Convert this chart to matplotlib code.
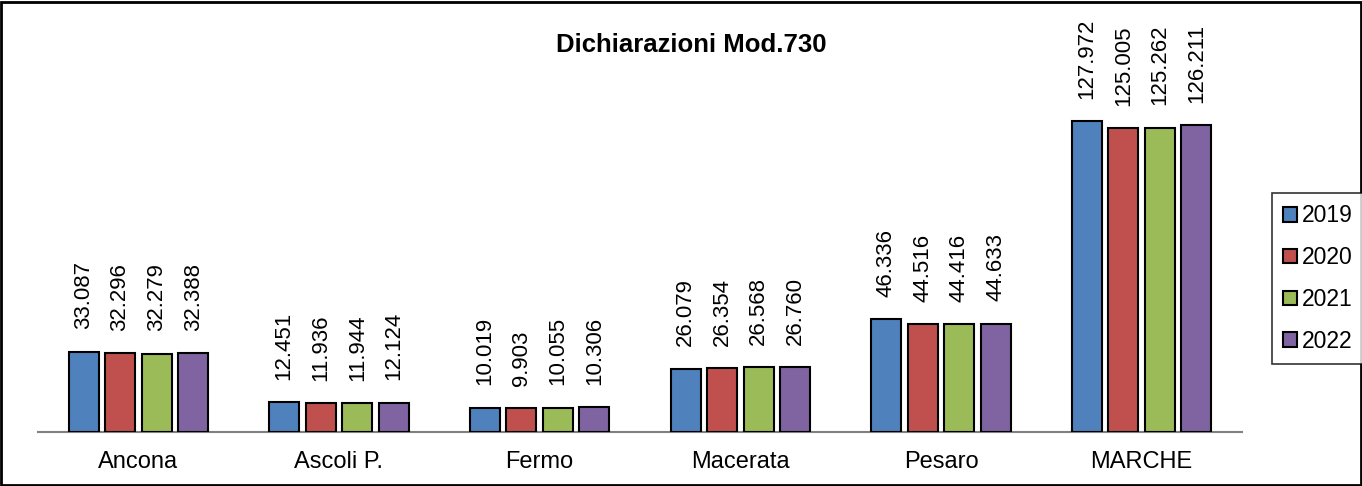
import matplotlib.pyplot as plt
import numpy as np
from matplotlib.patches import Rectangle

plt.rcParams["font.family"] = ["Liberation Sans", "DejaVu Sans"]

categories = ["Ancona", "Ascoli P.", "Fermo", "Macerata", "Pesaro", "MARCHE"]
years = ["2019", "2020", "2021", "2022"]
v2019 = [33087, 12451, 10019, 26079, 46336, 127972]
v2020 = [32296, 11936, 9903, 26354, 44516, 125005]
v2021 = [32279, 11944, 10055, 26568, 44416, 125262]
v2022 = [32388, 12124, 10306, 26760, 44633, 126211]
series = [v2019, v2020, v2021, v2022]
colors = ["#4F81BD", "#C0504D", "#9BBB59", "#8064A2"]


def fmt(v):
    return f"{v:,}".replace(",", ".")


def main():
    fig = plt.figure(figsize=(13.62, 4.86), dpi=100)
    ax = fig.add_axes([38 / 1362, 1 - 432 / 486, 1204 / 1362, 422 / 486])

    x = np.arange(len(categories))
    width = 0.15
    step = 0.182
    for i, (vals, col, yr) in enumerate(zip(series, colors, years)):
        pos = x + (i - 1.5) * step
        bars = ax.bar(pos, vals, width, color=col, edgecolor="black",
                      linewidth=1.5, label=yr, zorder=3)
        for b, v in zip(bars, vals):
            ax.annotate(fmt(v), xy=(b.get_x() + b.get_width() / 2, v),
                        xytext=(0, 16), textcoords="offset points",
                        rotation=90, ha="center", va="bottom", fontsize=16)

    ax.set_xlim(-0.5, len(categories) - 0.5)
    ax.set_ylim(0, 173600)
    ax.set_xticks(x)
    ax.set_xticklabels(categories, fontsize=17)
    ax.tick_params(axis="x", length=0, pad=14)
    ax.set_yticks([])
    for s in ["top", "right", "left"]:
        ax.spines[s].set_visible(False)
    ax.spines["bottom"].set_color("#808080")
    ax.spines["bottom"].set_linewidth(1.5)

    fig.text(691 / 1362, 1 - 45 / 486, "Dichiarazioni Mod.730", ha="center",
             va="center", fontsize=18.5, fontweight="bold")

    leg = fig.legend(loc="upper left", bbox_to_anchor=(1272 / 1362, 1 - 193 / 486),
                     fontsize=16.5, frameon=True, fancybox=False, edgecolor="black",
                     handlelength=0.6, handleheight=0.6, handletextpad=0.2,
                     labelspacing=0.82, borderpad=0.5, borderaxespad=0)
    leg.get_frame().set_linewidth(1.2)

    fig.patches.append(Rectangle((0.001, 0.002), 0.998, 0.994, transform=fig.transFigure,
                                 fill=False, edgecolor="black", linewidth=2))

    fig.savefig("out.png", dpi=100)


if __name__ == "__main__":
    main()
